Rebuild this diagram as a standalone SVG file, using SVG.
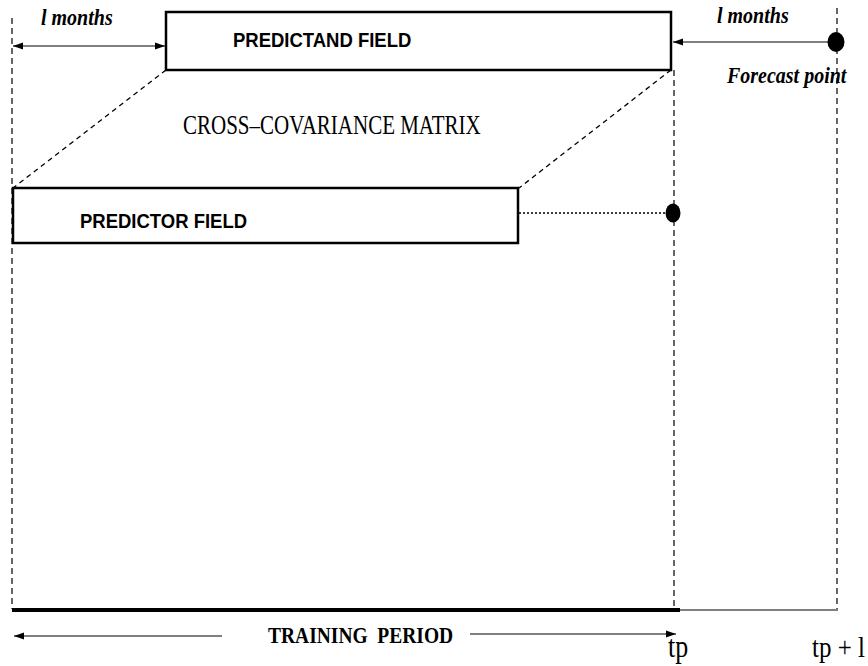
<svg xmlns="http://www.w3.org/2000/svg" width="868" height="666" viewBox="0 0 868 666">
<style>
.box{fill:#fff;stroke:#000;stroke-width:2.5}
.dash{stroke:#000;stroke-width:1.2;stroke-dasharray:6 4;fill:none}
.slant{stroke:#000;stroke-width:1.3;stroke-dasharray:5 4;fill:none}
.thin{stroke:#000;stroke-width:1.2;fill:none}
.sans{font-family:"Liberation Sans",Arial,sans-serif;font-weight:bold;font-size:18.5px}
.serif{font-family:"Liberation Serif","Times New Roman",serif}
.bi{font-family:"Liberation Serif","Times New Roman",serif;font-weight:bold;font-style:italic;font-size:20px}
</style>
<defs>
<marker id="ah" viewBox="0 0 10 10" refX="10" refY="5" markerWidth="10" markerHeight="10" markerUnits="userSpaceOnUse" orient="auto-start-reverse">
<path d="M0,1.5 L10,5 L0,8.5 Z" fill="#000"/>
</marker>
</defs>
<g id="guides">
<line class="dash" x1="12" y1="18" x2="12" y2="609"/>
<line class="dash" x1="674" y1="70" x2="674" y2="609"/>
<line class="dash" x1="837" y1="8" x2="837" y2="609"/>
</g>
<g id="connectors">
<line class="slant" x1="166" y1="70" x2="13" y2="188"/>
<line class="slant" x1="671" y1="70" x2="519" y2="188"/>
<line class="thin" x1="13" y1="46" x2="165" y2="46" marker-start="url(#ah)" marker-end="url(#ah)"/>
<line class="thin" x1="828" y1="42" x2="673" y2="42" marker-end="url(#ah)"/>
<line stroke="#000" stroke-width="1.3" stroke-dasharray="2 2" x1="519" y1="213" x2="667" y2="213"/>
<line class="thin" x1="222" y1="636" x2="14" y2="636" marker-end="url(#ah)"/>
<line class="thin" x1="470" y1="634" x2="676" y2="634" marker-end="url(#ah)"/>
</g>
<g id="timeline">
<line stroke="#000" stroke-width="4" x1="12" y1="610" x2="680" y2="610"/>
<line stroke="#000" stroke-width="1.2" x1="680" y1="610" x2="838" y2="610"/>
</g>
<g id="predictand">
<rect class="box" x="166" y="12" width="505" height="58"/>
<text class="sans" transform="matrix(1,0,0,1.05,233,47)">PREDICTAND FIELD</text>
</g>
<g id="predictor">
<rect class="box" x="13" y="188" width="505" height="55"/>
<text class="sans" transform="matrix(1,0,0,1.05,80,228)">PREDICTOR FIELD</text>
</g>
<g id="forecast-point">
<ellipse cx="836" cy="42" rx="8.5" ry="10" fill="#000"/>
<text class="bi" transform="matrix(1,0,0,1.2,727,83)">Forecast point</text>
</g>
<g id="predictor-point">
<ellipse cx="673" cy="213" rx="7.5" ry="9.5" fill="#000"/>
</g>
<g id="labels">
<text class="bi" transform="matrix(1,0,0,1.2,41,25)">l months</text>
<text class="bi" transform="matrix(1,0,0,1.2,717,23)">l months</text>
<text class="serif" font-size="21" transform="matrix(1,0,0,1.25,183,134)">CROSS–COVARIANCE MATRIX</text>
<text class="serif" font-size="19.5" font-weight="bold" xml:space="preserve" transform="matrix(1,0,0,1.15,268,643)">TRAINING  PERIOD</text>
<text class="serif" font-size="26" transform="matrix(1,0,0,1.2,668,657)">tp</text>
<text class="serif" font-size="25" transform="matrix(1,0,0,1.2,812,657)">tp + l</text>
</g>
</svg>
